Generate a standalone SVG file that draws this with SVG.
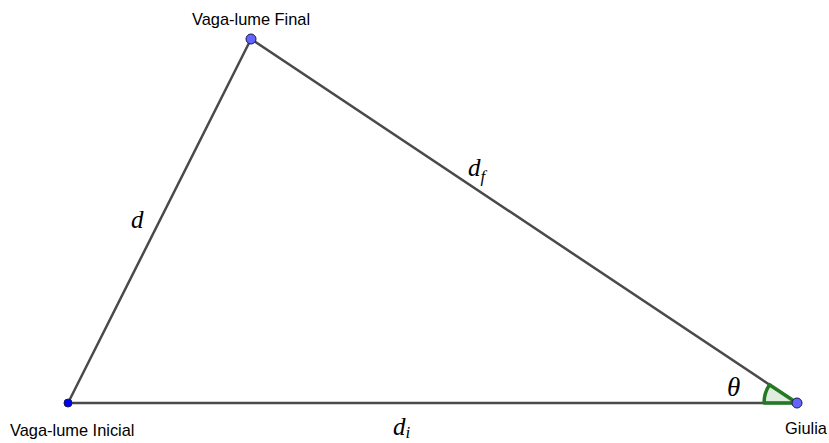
<svg xmlns="http://www.w3.org/2000/svg" width="829" height="443" viewBox="0 0 829 443">
<style>
.edge{stroke:#4a4a4a;stroke-width:2.5;fill:none;stroke-linecap:round}
.lbl{font-family:"Liberation Sans",Arial,sans-serif;font-size:16.4px;fill:#000}
.math{font-family:"Liberation Serif","Times New Roman",serif;font-style:italic;fill:#000}
.pt{stroke:#1a1a4d;stroke-width:1}
</style>
<rect width="829" height="443" fill="#fff"/>
<g id="connectors">
<line class="edge" x1="68" y1="403" x2="251" y2="39"/>
<line class="edge" x1="251" y1="39" x2="797" y2="403"/>
<line class="edge" x1="68" y1="403" x2="797" y2="403"/>
</g>
<g id="angle-theta">
<path d="M797,403 L764,403 A33,33 0 0,1 769.5,384.7 Z" fill="#006400" fill-opacity="0.12" stroke="#237a23" stroke-width="3.5" stroke-linejoin="round"/>
<text class="math" x="727" y="396" font-size="27">θ</text>
</g>
<g id="edge-labels">
<text class="math" x="131" y="228" font-size="25">d</text>
<text class="math" x="468" y="176" font-size="25">d<tspan font-size="17" dy="6">f</tspan></text>
<text class="math" x="393" y="435" font-size="25">d<tspan font-size="17" dy="3">i</tspan></text>
</g>
<g id="node-inicial">
<circle class="pt" cx="68" cy="403" r="4" fill="#0000ff"/>
<text class="lbl" x="10" y="436">Vaga-lume Inicial</text>
</g>
<g id="node-final">
<circle class="pt" cx="251" cy="39" r="5" fill="#6464ff"/>
<text class="lbl" x="192" y="25">Vaga-lume Final</text>
</g>
<g id="node-giulia">
<circle class="pt" cx="797" cy="403" r="5" fill="#6464ff"/>
<text class="lbl" x="785" y="434">Giulia</text>
</g>
</svg>
